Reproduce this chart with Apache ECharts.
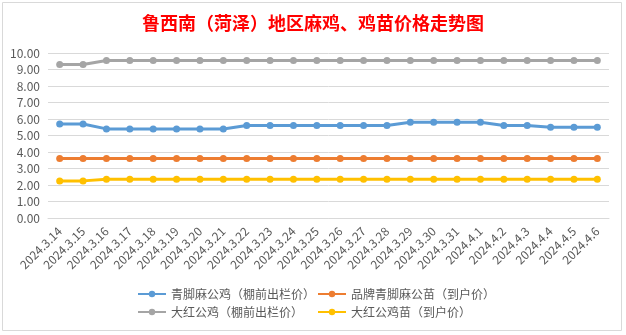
<!DOCTYPE html>
<html><head><meta charset="utf-8">
<script src="https://cdn.jsdelivr.net/npm/echarts@6/dist/echarts.min.js"></script>
<style>html,body{margin:0;padding:0;background:#fff}#c{width:626px;height:335px}</style>
</head><body><div id="c"></div>
<script>
const categories = ['2024.3.14','2024.3.15','2024.3.16','2024.3.17','2024.3.18','2024.3.19','2024.3.20','2024.3.21','2024.3.22','2024.3.23','2024.3.24','2024.3.25','2024.3.26','2024.3.27','2024.3.28','2024.3.29','2024.3.30','2024.3.31','2024.4.1','2024.4.2','2024.4.3','2024.4.4','2024.4.5','2024.4.6'];
const seriesNames = ['青脚麻公鸡（棚前出栏价）','品牌青脚麻公苗（到户价）','大红公鸡（棚前出栏价）','大红公鸡苗（到户价）'];
const qingjiaoRooster = [5.7,5.7,5.4,5.4,5.4,5.4,5.4,5.4,5.6,5.6,5.6,5.6,5.6,5.6,5.6,5.8,5.8,5.8,5.8,5.6,5.6,5.5,5.5,5.5];
const qingjiaoChick = [3.6,3.6,3.6,3.6,3.6,3.6,3.6,3.6,3.6,3.6,3.6,3.6,3.6,3.6,3.6,3.6,3.6,3.6,3.6,3.6,3.6,3.6,3.6,3.6];
const dahongRooster = [9.3,9.3,9.55,9.55,9.55,9.55,9.55,9.55,9.55,9.55,9.55,9.55,9.55,9.55,9.55,9.55,9.55,9.55,9.55,9.55,9.55,9.55,9.55,9.55];
const dahongChick = [2.25,2.25,2.35,2.35,2.35,2.35,2.35,2.35,2.35,2.35,2.35,2.35,2.35,2.35,2.35,2.35,2.35,2.35,2.35,2.35,2.35,2.35,2.35,2.35];
const yTicks = {min:0,max:10,interval:1};
const colors = ['#5B9BD5','#ED7D31','#A5A5A5','#FFC000'];
const allData = [qingjiaoRooster, qingjiaoChick, dahongRooster, dahongChick];

const chart = echarts.init(document.getElementById('c'), null, {renderer:'canvas'});
const legendPos = [[137,288],[317,288],[137,306],[317,306]];
chart.setOption({
  animation:false,
  color: colors,
  title:{text:'鲁西南（菏泽）地区麻鸡、鸡苗价格走势图', left:'center', top:9,
    textStyle:{color:'#FF0000', fontSize:18, fontWeight:'bold', fontFamily:'Noto Sans CJK SC'}},
  graphic:[{type:'rect', shape:{x:2.5,y:2.5,width:619,height:328}, style:{fill:'none',stroke:'#d9d9d9',lineWidth:1}, silent:true}],
  legend: seriesNames.map((n,i)=>({data:[n], left:legendPos[i][0], top:legendPos[i][1], padding:0, itemWidth:28, itemHeight:8, itemGap:0,
    textStyle:{color:'#595959', fontSize:12, fontFamily:'Noto Sans CJK SC'}})),
  grid:{left:48, right:17, top:53, bottom:117, containLabel:false},
  xAxis:{type:'category', data:categories, boundaryGap:true,
    axisLine:{lineStyle:{color:'#d9d9d9'}}, axisTick:{show:false},
    axisLabel:{rotate:45, color:'#595959', fontSize:12, interval:0, margin:11, fontFamily:'Noto Sans CJK SC'}},
  yAxis:{type:'value', min:yTicks.min, max:yTicks.max, interval:yTicks.interval,
    axisLine:{show:false}, axisTick:{show:false},
    splitLine:{lineStyle:{color:'#d9d9d9'}},
    axisLabel:{color:'#595959', fontSize:12, margin:8, formatter:v=>v.toFixed(2), fontFamily:'Noto Sans CJK SC'}},
  series: seriesNames.map((n,i)=>({name:n, type:'line', data:allData[i], symbol:'circle', symbolSize:7,
    lineStyle:{width:3, color:colors[i]}, itemStyle:{color:colors[i]}}))
});
</script></body></html>
